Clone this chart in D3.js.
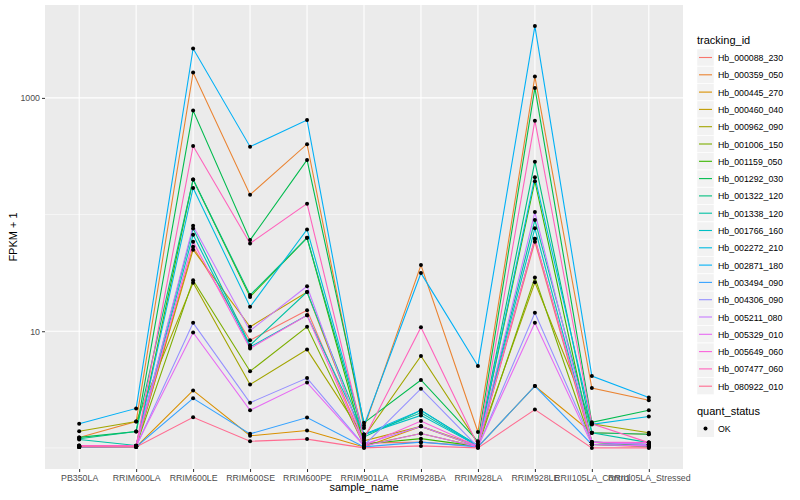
<!DOCTYPE html>
<html><head><meta charset="utf-8">
<script src="https://cdn.jsdelivr.net/npm/d3@7"></script>
<style>body{margin:0;background:#fff}svg{display:block}text{font-family:"Liberation Sans",Arial,Helvetica,sans-serif}</style>
</head><body><svg id="c" width="800" height="500"></svg>
<script>
const categories = ["PB350LA","RRIM600LA","RRIM600LE","RRIM600SE","RRIM600PE","RRIM901LA","RRIM928BA","RRIM928LA","RRIM928LE","RRII105LA_Control","RRII105LA_Stressed"];
const trackingIds = ["Hb_000088_230","Hb_000359_050","Hb_000445_270","Hb_000460_040","Hb_000962_090","Hb_001006_150","Hb_001159_050","Hb_001292_030","Hb_001322_120","Hb_001338_120","Hb_001766_160","Hb_002272_210","Hb_002871_180","Hb_003494_090","Hb_004306_090","Hb_005211_080","Hb_005329_010","Hb_005649_060","Hb_007477_060","Hb_080922_010"];
const seriesColors = ["#F8766D","#EA8331","#D89000","#C09B00","#A3A500","#7CAE00","#39B600","#00BB4E","#00BF7D","#00C1A3","#00BFC4","#00BAE0","#00B0F6","#35A2FF","#9590FF","#C77CFF","#E76BF3","#FA62DB","#FF62BC","#FF6C91"];
const fpkmPlus1 = [
 [1.02,1.03,53,8.37,15.1,1.10,1.12,1.03,58.5,1.07,1.02],
 [1.23,1.68,1650,148,401,1.48,36.9,1.37,1523,3.26,2.56],
 [1.02,1.02,3.11,1.27,1.41,1.02,1.53,1.02,3.39,1.35,1.31],
 [1.03,1.03,50,10.9,21.7,1.15,1.53,1.05,62,1.12,1.07],
 [1.39,1.68,26,3.49,6.96,1.24,6.14,1.10,26.3,1.61,1.35],
 [1.04,1.04,27.4,4.54,10.9,1.05,1.33,1.02,28.9,1.07,1.04],
 [1.03,1.04,200,19.7,63.2,1.08,1.20,1.03,193,1.12,1.04],
 [1.23,1.38,778,60.4,294,1.64,3.82,1.14,1218,1.66,2.10],
 [1.20,1.38,200,20.4,63.2,1.24,2.10,1.05,284,1.35,1.31],
 [1.18,1.05,76,7.58,21.7,1.30,2.0,1.04,89.8,1.35,1.11],
 [1.02,1.03,67,7.33,13.7,1.30,1.90,1.04,76.2,1.12,1.07],
 [1.02,1.03,169,16.2,74.6,1.30,2.10,1.04,209,1.59,1.86],
 [1.61,2.18,2650,382,647,1.56,31.5,5.04,4125,4.13,2.70],
 [1.02,1.02,2.66,1.32,1.82,1.02,1.12,1.02,3.39,1.07,1.04],
 [1.03,1.03,11.8,2.44,3.97,1.05,3.22,1.02,14.4,1.12,1.07],
 [1.05,1.04,80,10.1,24.3,1.08,1.53,1.03,105,1.12,1.07],
 [1.05,1.04,9.75,2.10,3.63,1.04,1.33,1.02,11.8,1.07,1.04],
 [1.04,1.04,58.5,7.11,13.7,1.05,1.70,1.03,62,1.12,1.11],
 [1.04,1.04,387,56.6,124,1.20,10.8,1.05,638,1.61,1.11],
 [1.02,1.02,1.83,1.14,1.19,1.0,1.04,1.0,2.13,1.0,1.0]
];
const yMajorTicks = [10, 1000];
const yMinorTicks = [1, 100];
const statusLevels = ["OK"];

const svg = d3.select("#c");
const P = {l:45, r:683, t:5, b:469};
const all = fpkmPlus1.flat();
const lmin = Math.log10(d3.min(all)), lmax = Math.log10(d3.max(all));
const pad = (lmax - lmin) * 0.05;
const y = d3.scaleLog().domain([Math.pow(10, lmin - pad), Math.pow(10, lmax + pad)]).range([P.b, P.t]);
const x = d3.scalePoint().domain(categories).range([P.l, P.r]).padding(0.6);

svg.append("rect").attr("x",P.l).attr("y",P.t).attr("width",P.r-P.l).attr("height",P.b-P.t).attr("fill","#EBEBEB");
const g = svg.append("g");
g.selectAll(".ymin").data(yMinorTicks).join("line").attr("x1",P.l).attr("x2",P.r)
 .attr("y1",d=>y(d)).attr("y2",d=>y(d)).attr("stroke","#fff").attr("stroke-width",0.55);
g.selectAll(".ymaj").data(yMajorTicks).join("line").attr("x1",P.l).attr("x2",P.r)
 .attr("y1",d=>y(d)).attr("y2",d=>y(d)).attr("stroke","#fff").attr("stroke-width",1.1);
g.selectAll(".xmaj").data(categories).join("line").attr("y1",P.t).attr("y2",P.b)
 .attr("x1",d=>x(d)).attr("x2",d=>x(d)).attr("stroke","#fff").attr("stroke-width",1.1);

const line = d3.line().x((d,i)=>x(categories[i])).y(d=>y(d));
svg.append("g").selectAll("path").data(fpkmPlus1).join("path")
 .attr("d",line).attr("fill","none").attr("stroke",(d,i)=>seriesColors[i]).attr("stroke-width",1.1);
const pts = [];
fpkmPlus1.forEach((s,si)=>s.forEach((v,ci)=>pts.push({c:categories[ci],v})));
svg.append("g").selectAll("circle").data(pts).join("circle")
 .attr("cx",d=>x(d.c)).attr("cy",d=>y(d.v)).attr("r",2).attr("fill","#000");

// axes
const yAxis = d3.axisLeft(y).tickValues(yMajorTicks).tickFormat(d3.format("d")).tickSize(3).tickPadding(2);
const ya = svg.append("g").attr("transform",`translate(${P.l},0)`).call(yAxis);
const xAxis = d3.axisBottom(x).tickSize(3).tickPadding(3);
const xa = svg.append("g").attr("transform",`translate(0,${P.b})`).call(xAxis);
[ya,xa].forEach(a=>{a.select(".domain").remove();a.selectAll(".tick line").attr("stroke","#333").attr("stroke-width",1);
 a.selectAll("text").attr("fill","#4D4D4D").style("font-size","8.8px");});

svg.append("text").attr("x",364).attr("y",491).attr("text-anchor","middle").style("font-size","11px").attr("fill","#000").text("sample_name");
svg.append("text").attr("transform","translate(17,237) rotate(-90)").attr("text-anchor","middle").style("font-size","11px").attr("fill","#000").text("FPKM + 1");

// legend
const L = svg.append("g");
L.append("text").attr("x",697).attr("y",44).style("font-size","11px").text("tracking_id");
const step = 17.3;
const items = L.selectAll("g.k").data(trackingIds).join("g").attr("transform",(d,i)=>`translate(697,${49+i*step})`);
items.append("rect").attr("width",17).attr("height",17).attr("fill","#F2F2F2").attr("stroke","#fff").attr("stroke-width",0.5);
items.append("line").attr("x1",2).attr("x2",15).attr("y1",8.5).attr("y2",8.5).attr("stroke",(d,i)=>seriesColors[i]).attr("stroke-width",1.1);
items.append("text").attr("x",21).attr("y",12).style("font-size","8.8px").text(d=>d);
L.append("text").attr("x",697).attr("y",415).style("font-size","11px").text("quant_status");
const sk = L.selectAll("g.s").data(statusLevels).join("g").attr("transform",(d,i)=>`translate(697,${420+i*step})`);
sk.append("rect").attr("width",17).attr("height",17).attr("fill","#F2F2F2");
sk.append("circle").attr("cx",8.5).attr("cy",8.5).attr("r",2).attr("fill","#000");
sk.append("text").attr("x",21).attr("y",12).style("font-size","8.8px").text(d=>d);
</script></body></html>
